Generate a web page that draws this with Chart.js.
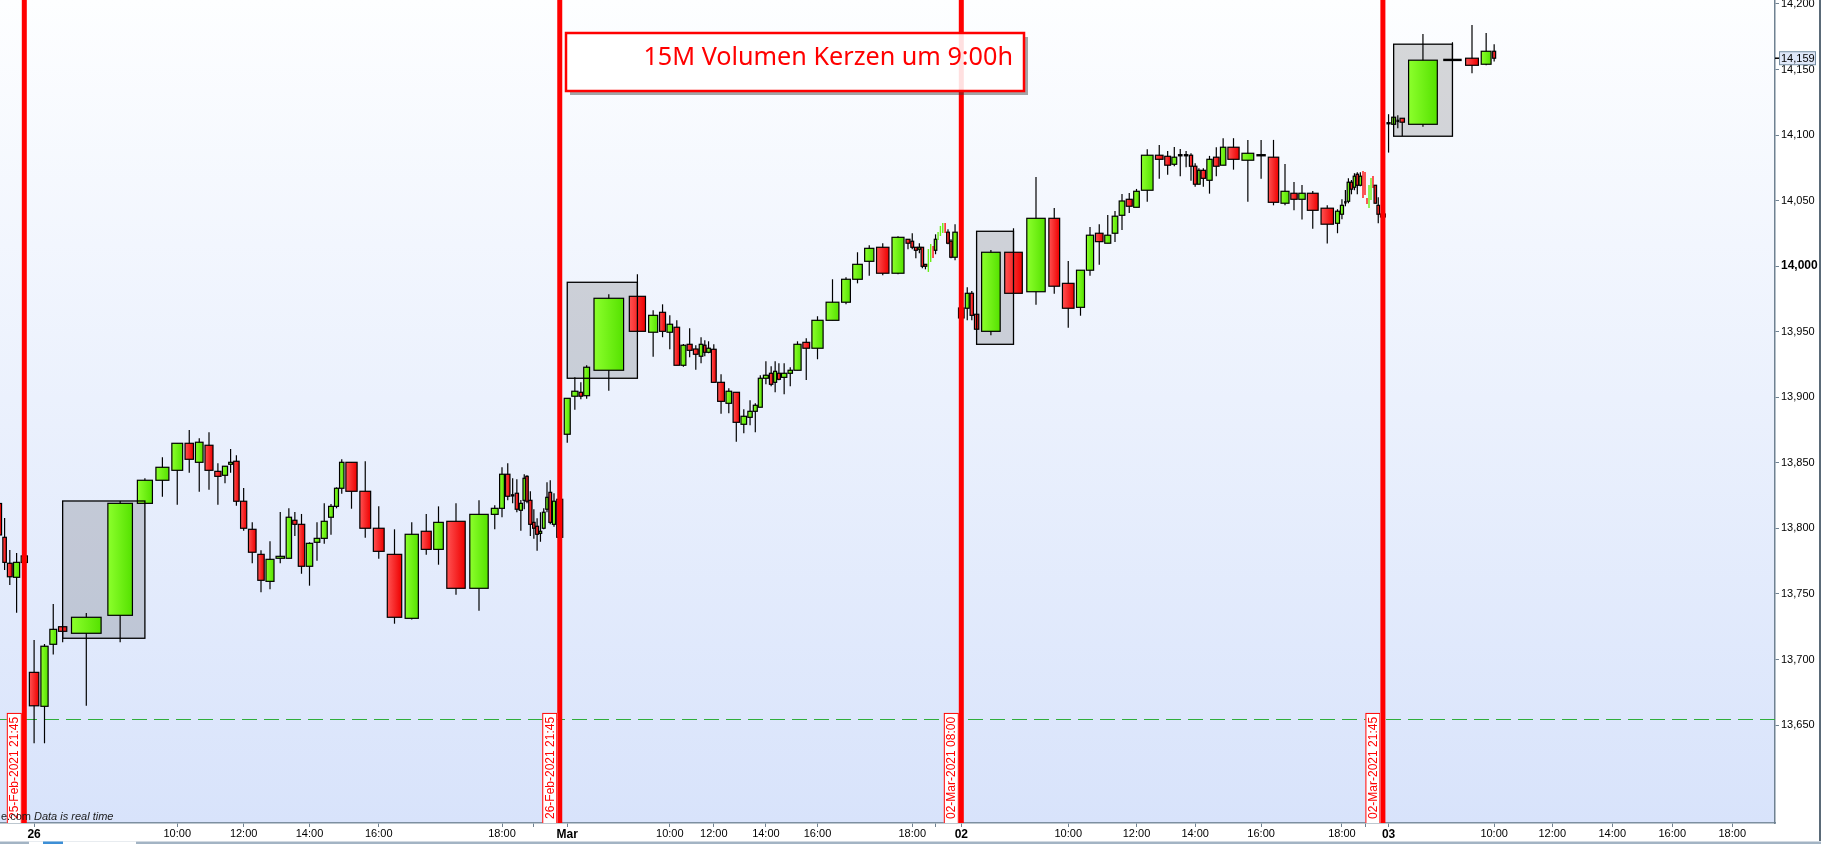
<!DOCTYPE html>
<html>
<head>
<meta charset="utf-8">
<script src="https://cdn.jsdelivr.net/npm/chart.js@4.4.1/dist/chart.umd.min.js"></script>
<style>
    html, body { margin: 0; padding: 0; background: #fff; overflow: hidden; }
    #wrap { width: 1821px; height: 844px; }
</style>
</head>
<body>
<div id="wrap"><canvas id="chart" width="1821" height="844"></canvas></div>
<script>
// 15 minute bars, width of each bar = traded volume (relative units)
const volume = [
    // 25 Feb (tail)
    8.4, 4.4, 6.0, 7.6, 7.8,
    // 26 Feb 08:00 - 21:45
    11.8, 9, 8.5, 10.3, 37, 30.7, 18.8, 16.2, 13.5, 10.5, 9.5, 10, 7.8, 6.4, 4.8, 6.8, 7.7, 9.5, 8, 10,
    10.5, 6.7, 5.3, 8, 8, 7, 7.5, 6, 5, 5.5, 14, 13.5, 13.5, 18, 16.5, 12.5, 12, 23, 23, 8.5,
    6, 5.5, 4.3, 4.1, 3.9, 2.9, 2.6, 4.1, 2.9, 3.6, 3.1, 3.5, 3, 3.5, 4, 7.5,
    // 01 Mar
    7.5, 7.7, 4.3, 7.3, 37, 20.2, 11.3, 7.5, 7, 7, 6.2, 6.3, 6, 4.5, 3, 4.5, 6, 8.5, 7, 8,
    7, 5.5, 5, 5, 6.2, 4.3, 3.7, 3.8, 6.7, 5.5, 9, 8.5, 14, 16, 11, 12, 11.5, 15.5, 15, 5,
    3.5, 3.7, 3.3, 2.7, 3.5, 2.33, 2.33, 2.34, 2.7, 2.35, 2.35, 2.35, 2.35, 3.4, 2.6, 5.5,
    // 02 Mar
    7, 4.9, 4.2, 5.4, 23.2, 22, 23, 13.5, 14.5, 10, 9, 9.5, 7.5, 7, 7, 7.5, 7, 14.5, 9.5, 7.3,
    6, 5.9, 5.8, 4, 4.3, 3.2, 5.7, 6.6, 7, 6.7, 14, 14.7, 11.8, 13, 10, 8, 8, 13.5, 15.5, 5,
    3.9, 3, 3, 3.1, 2.9, 2.8, 3.3, 2, 2, 2, 2, 2, 2, 2.6, 3.3, 6,
    // 03 Mar
    5.3, 4.9, 3.4, 5.5, 35.9, 23.1, 16, 12.3, 3.7
];

const open = [
    13819, 13793.2, 13773.4, 13762.7, 13774,
    13690.2, 13664.3, 13711.6, 13725, 13720, 13733.7, 13819.1, 13836.7, 13844.3, 13864.9, 13850.4, 13863.4, 13843.5, 13840.5, 13848.9, 13851.2, 13820.7, 13799.3, 13780.2, 13759.6,
    13777.2, 13777.2, 13806.2, 13803.1, 13771.1, 13789.4, 13792.4, 13808.5, 13816.8, 13830.6, 13850.4, 13828.3, 13800.1, 13780.2, 13731.4, 13797.8, 13784, 13805.4, 13754.3, 13810.7,
    13815.3, 13841.3, 13825.2, 13826.8, 13813.8, 13821.4, 13839.7, 13821.4, 13804.6, 13801.6, 13796.2, 13800.1, 13814.6, 13827.5, 13803.1, 13822.2,
    13871.8, 13900.8, 13903.8, 13901.2, 13920.6, 13977, 13949.6, 13964.8, 13949.6, 13953.4, 13924.4, 13940.4, 13936.8, 13931.3, 13939.7, 13934.3, 13936.6, 13911.4, 13895.4, 13903.8,
    13879.4, 13884.7, 13889.3, 13892.4, 13914.5, 13918.3, 13911.4, 13918.3, 13915.2, 13918.3, 13920.6, 13941.9, 13937.4, 13958.7, 13972.5, 13990, 14003.7, 14014.4, 13994.6, 14020.5,
    14019, 14014.4, 14012.9, 14014.4, 14001.4, 13995.6, 14003.2, 14015.4, 14012.1, 14020, 14023, 14025.3, 14032.9, 14025.9, 14019, 14006.8,
    13968.1, 13967.9, 13979.3, 13963.3, 13950.3, 14010.6, 13980.5, 14036.5, 13986.9, 13968.6, 13996.9, 14025.1, 14017.5, 14025.1, 14038.8, 14051, 14044.9, 14057.9, 14084.6, 14083.8,
    14077.7, 14084.6, 14084.6, 14084.6, 14076.2, 14062.5, 14073.1, 14065.5, 14083.1, 14077, 14090.7, 14080.8, 14084.6, 14083.1, 14048, 14055.6, 14051, 14055.6, 14044.2, 14032.7,
    14039.6, 14048.7, 14049.5, 14064, 14060.2, 14070.1, 14061.7, 14072.6, 14071.8, 14052, 14044.4, 14050.5, 14068.8, 14061.7, 14046.4, 14039.8,
    14109, 14108.2, 14110.8, 14112.8, 14108.2, 14157.3, 14158.6, 14154, 14163.9
];

const high = [
    13822.4, 13807.9, 13783.5, 13781.2, 13783,
    13714.9, 13711.8, 13742.3, 13725, 13735.5, 13820.9, 13838.2, 13854.2, 13864.9, 13875, 13868.7, 13873.3, 13849.6, 13847.5, 13860.6, 13855.7, 13830.8, 13804.6, 13783.3, 13790.1,
    13812.5, 13815.3, 13812.5, 13811, 13789.4, 13804.6, 13819.1, 13818.6, 13831.3, 13852.7, 13850.4, 13851.2, 13816.8, 13799.3, 13804.6, 13811, 13816.8, 13819.1, 13821.4, 13817.6,
    13846.6, 13849.6, 13838.2, 13837.4, 13821.7, 13841.3, 13840.5, 13828.3, 13814.6, 13807.7, 13812.3, 13815.3, 13835.1, 13836.7, 13826.8, 13822.2,
    13899.2, 13915.2, 13911.4, 13924.4, 13978.6, 13993.8, 13966.4, 13970.9, 13962.5, 13958.7, 13940.6, 13952.6, 13939.7, 13945.8, 13943.5, 13942.7, 13940.4, 13917.5, 13906.9, 13903.8,
    13890.8, 13897.7, 13895.4, 13916.8, 13927.5, 13923.6, 13927.5, 13925.9, 13925.9, 13922.9, 13942.7, 13945, 13961.8, 13990, 13991.5, 14010.6, 14015.9, 14017.5, 14022.8, 14020.5,
    14025.1, 14014.4, 14017.5, 14014.4, 14001.4, 14013.1, 14016.9, 14015.4, 14024.3, 14026.1, 14030.7, 14032.9, 14032.9, 14028.1, 14020.5, 14032,
    13970.4, 13983.9, 13981.1, 13963.3, 14012.4, 14028.9, 14068, 14044.4, 14004, 13996.9, 14029.9, 14032, 14039, 14042.1, 14055.1, 14055.8, 14058.9, 14089.2, 14092.4, 14087.9,
    14090.9, 14089.4, 14087.9, 14086.1, 14078.5, 14074.7, 14074.7, 14084.1, 14090.7, 14097.6, 14097.6, 14096.3, 14096.3, 14096.3, 14078, 14064.2, 14061.9, 14057.4, 14046.4, 14043.4,
    14051, 14058.1, 14067, 14065.7, 14070.9, 14071.6, 14071.6, 14072.6, 14071.8, 14052, 14061.9, 14067.3, 14068.8, 14061.7, 14052.6, 14042.9,
    14115.9, 14113.6, 14115.1, 14112.8, 14177.1, 14170.8, 14184, 14177.9, 14169.3
];

const low = [
    13795, 13768.3, 13756.8, 13735.7, 13773,
    13636.1, 13636.1, 13703.9, 13713.1, 13664.7, 13713.1, 13819.1, 13824.2, 13818.1, 13842.5, 13828, 13829.5, 13818.1, 13834.4, 13842.5, 13817.3, 13798.2, 13773.4, 13751.2, 13753.5,
    13773.4, 13777.2, 13794.2, 13765.4, 13756.3, 13775.4, 13788.3, 13795.2, 13815.3, 13826.5, 13815, 13792.9, 13776.9, 13727.3, 13730.6, 13779.9, 13772.3, 13749.4, 13737.2, 13799.3,
    13808.5, 13821.4, 13819.1, 13812.3, 13798.2, 13814.6, 13819.1, 13794.2, 13792.1, 13783, 13789.8, 13799.3, 13812.3, 13803.1, 13801.3, 13793.2,
    13865.4, 13890.5, 13898.5, 13898.9, 13905, 13950.3, 13931, 13945.8, 13936.6, 13924.4, 13923.3, 13930.5, 13921, 13925.9, 13931.3, 13933.6, 13911.4, 13887.5, 13887.8, 13866.1,
    13872.5, 13878.6, 13873.3, 13892.4, 13909.9, 13908.4, 13903.8, 13913, 13902.3, 13908.4, 13920.6, 13913.2, 13929, 13958.7, 13970.9, 13986.9, 13992.7, 13993.1, 13993.8, 14012.9,
    14012.9, 14006, 14009.8, 13998.4, 13997.6, 13995.6, 14003.2, 14006.2, 14009.1, 14020, 14023, 14025.3, 14025.3, 14016.7, 14006, 14004.5,
    13958.2, 13958.7, 13958.7, 13951.9, 13947.3, 13979.3, 13970.6, 13979, 13953.1, 13962.2, 13992.7, 14001.1, 14017.5, 14018.5, 14027.6, 14040.6, 14044.9, 14049.2, 14066.7, 14069.8,
    14076.2, 14068.6, 14075.4, 14065.2, 14060.6, 14062.5, 14060.6, 14055.3, 14068.6, 14077, 14073.6, 14049.2, 14066.7, 14046.4, 14046.4, 14042.6, 14035.5, 14028.6, 14017.2, 14025.1,
    14035.8, 14045.7, 14048, 14054.8, 14057.9, 14054.8, 14060.9, 14052, 14054.3, 14047.4, 14044.4, 14050.5, 14059.6, 14048, 14032.7, 14033.7,
    14086.6, 14108.2, 14105.2, 14099.3, 14106.4, 14157.3, 14147.1, 14153.2, 14156
];

const close = [
    13795, 13774.1, 13763.1, 13774.1, 13779,
    13664.7, 13710.1, 13723, 13721.5, 13732.2, 13819.1, 13836.7, 13846.6, 13864.9, 13852.7, 13865.7, 13844.3, 13839.7, 13847.4, 13850.4, 13820.7, 13800.1, 13781.8, 13760.4, 13776.4,
    13778.7, 13808.5, 13803.1, 13771.1, 13788.6, 13792.4, 13805.4, 13816.8, 13830.6, 13850.4, 13828.3, 13800.1, 13782.5, 13732.2, 13795.5, 13784, 13804.6, 13754.3, 13810.7, 13815.3,
    13841.3, 13824.5, 13824.5, 13814.6, 13819.1, 13838.2, 13820.7, 13803.1, 13800.1, 13795.5, 13797.8, 13812.3, 13823.7, 13804.6, 13820.7, 13793.2,
    13899.2, 13904.6, 13900.8, 13922.9, 13975.5, 13950.3, 13962.5, 13950.3, 13955.7, 13924.4, 13939.7, 13935.8, 13932.8, 13940.4, 13934.3, 13937.4, 13911.4, 13896.9, 13904.6, 13880.9,
    13885.5, 13889.3, 13893.9, 13914.5, 13916.8, 13909.9, 13919.8, 13913.7, 13918.3, 13920.6, 13940.4, 13937.4, 13958.7, 13972.5, 13990, 14001.4, 14013.6, 13994.6, 14022, 14017.5,
    14014.4, 14012.1, 14014.4, 13999.9, 13999.9, 14013.1, 14016.9, 14006.2, 14020.5, 14026.1, 14030.7, 14032.9, 14025.3, 14017.5, 14006.8, 14025.9,
    13960.5, 13979.3, 13962.5, 13951.9, 14010.6, 13979.3, 14036.5, 13984.7, 13967.9, 13996.9, 14023.6, 14018.7, 14023.6, 14038.1, 14049.7, 14045.7, 14057.1, 14084.6, 14081.5, 14077,
    14083.1, 14084.6, 14084.6, 14076.2, 14062.5, 14073.1, 14067, 14081.5, 14076.2, 14090.7, 14081.5, 14086.1, 14084.6, 14048.7, 14057.1, 14051, 14055.6, 14042.6, 14032, 14041.9,
    14046.4, 14048.7, 14064, 14058.7, 14068.6, 14061.7, 14068.6, 14052, 14054.3, 14047.4, 14061.9, 14067.3, 14059.6, 14048, 14039.6, 14037.5,
    14109, 14113.6, 14110.8, 14109.8, 14157.1, 14157.3, 14153.2, 14163.9, 14158.6
];

// time axis: bar index of each tick (bars past the last one use the average volume)
const tickBars = [5, 13, 21, 29, 37, 45, 53, 61, 69, 77, 85, 93, 101, 109, 117, 125, 133, 141, 149, 157, 165, 173, 181, 189, 197, 205, 213];
const tickLabels = ["26", "10:00", "12:00", "14:00", "16:00", "18:00", "",
    "Mar", "10:00", "12:00", "14:00", "16:00", "18:00", "",
    "02", "10:00", "12:00", "14:00", "16:00", "18:00", "",
    "03", "10:00", "12:00", "14:00", "16:00", "18:00"];
const dayLabels = ["26", "Mar", "02", "03"];
const futureBarVolume = 7.5;

const priceTicks = [13650, 13700, 13750, 13800, 13850, 13900, 13950, 14000, 14050, 14100, 14150, 14200];

// vertical session markers
const markerBars = [4, 60, 117, 172];
const markerLabels = ["25-Feb-2021 21:45", "26-Feb-2021 21:45", "02-Mar-2021 08:00", "02-Mar-2021 21:45"];

// 9:00 boxes (from bar, to bar, price range)
const boxFrom = [8, 61, 120, 174];
const boxTo = [11, 66, 122, 178];
const boxHigh = [13820.9, 13987.7, 14026.6, 14169.3];
const boxLow = [13716.2, 13914.5, 13940.4, 14099.1];

const levelLine = 13655;
const titleText = "15M Volumen Kerzen um 9:00h";

const FONT = '"Liberation Sans", Arial, sans-serif';

const edges = [0];
volume.forEach((v) => edges.push(edges[edges.length - 1] + v));

function barCenter(i) {
    if (i < volume.length) {
        return (edges[i] + edges[i + 1]) / 2;
    }
    return edges[volume.length] + (i - volume.length + 0.5) * futureBarVolume;
}

const xTickValues = tickBars.map(barCenter);

function drawCandles(chart) {
    const { ctx } = chart;
    const xs = chart.scales.x;
    const ys = chart.scales.y;

    for (let i = 0; i < volume.length; i++) {
        const x0 = xs.getPixelForValue(edges[i]);
        const x1 = xs.getPixelForValue(edges[i + 1]);
        const cx = (x0 + x1) / 2;
        const up = close[i] >= open[i];
        const yH = ys.getPixelForValue(high[i]);
        const yL = ys.getPixelForValue(low[i]);
        const yO = ys.getPixelForValue(open[i]);
        const yC = ys.getPixelForValue(close[i]);

        if (volume[i] < 2.5) {
            // very small volume: only a coloured stroke
            ctx.strokeStyle = up ? "#66ee11" : "#ff1010";
            ctx.lineWidth = 1.4;
            ctx.beginPath();
            ctx.moveTo(cx, yH);
            ctx.lineTo(cx, yL);
            ctx.stroke();
            continue;
        }

        ctx.strokeStyle = "#000";
        ctx.lineWidth = 1.2;
        ctx.beginPath();
        ctx.moveTo(cx, yH);
        ctx.lineTo(cx, yL);
        ctx.stroke();

        const w = Math.max(2.5, (x1 - x0) * 0.8);
        const top = Math.min(yO, yC);
        const bot = Math.max(yO, yC);

        if (bot - top < 1.5) {
            ctx.fillStyle = "#000";
            ctx.fillRect(cx - w / 2, top - 1.2, w, 2.4);
            continue;
        }

        const g = ctx.createLinearGradient(cx - w / 2, 0, cx + w / 2, 0);
        if (up) {
            g.addColorStop(0, "#8cff2c");
            g.addColorStop(1, "#55e200");
        }
        else {
            g.addColorStop(0, "#ff5252");
            g.addColorStop(1, "#ee0000");
        }
        ctx.fillStyle = g;
        ctx.fillRect(cx - w / 2, top, w, bot - top);
        ctx.lineWidth = 1.2;
        ctx.strokeRect(cx - w / 2, top, w, bot - top);
    }
}

function boxRect(chart, k) {
    const xs = chart.scales.x;
    const ys = chart.scales.y;
    const left = xs.getPixelForValue(barCenter(boxFrom[k]));
    const right = xs.getPixelForValue(barCenter(boxTo[k]));
    const top = ys.getPixelForValue(boxHigh[k]);
    const bottom = ys.getPixelForValue(boxLow[k]);
    return [left, top, right - left, bottom - top];
}

const volumeChartPlugin = {
    id: "volumeChart",
    beforeDraw(chart) {
        const { ctx, chartArea: a } = chart;
        ctx.save();
        ctx.fillStyle = "#fff";
        ctx.fillRect(0, 0, chart.width, chart.height);
        const g = ctx.createLinearGradient(0, a.top, 0, a.bottom);
        g.addColorStop(0, "#fdfeff");
        g.addColorStop(1, "#d8e3fb");
        ctx.fillStyle = g;
        ctx.fillRect(a.left, a.top, a.right - a.left, a.bottom - a.top);
        ctx.restore();
    },
    beforeDatasetsDraw(chart) {
        const { ctx, chartArea: a } = chart;
        const xs = chart.scales.x;
        const ys = chart.scales.y;

        ctx.save();
        ctx.beginPath();
        ctx.rect(a.left, a.top, a.right - a.left, a.bottom - a.top);
        ctx.clip();

        // box fills behind the candles
        ctx.fillStyle = "rgba(0, 0, 0, 0.15)";
        boxFrom.forEach((_, k) => ctx.fillRect(...boxRect(chart, k)));

        // horizontal level
        const yl = Math.round(ys.getPixelForValue(levelLine)) + 0.5;
        ctx.strokeStyle = "#2fae3a";
        ctx.lineWidth = 1.2;
        ctx.setLineDash([15, 7]);
        ctx.beginPath();
        ctx.moveTo(a.left, yl);
        ctx.lineTo(a.right, yl);
        ctx.stroke();
        ctx.setLineDash([]);

        drawCandles(chart);

        // box outlines on top
        ctx.strokeStyle = "#000";
        ctx.lineWidth = 1.3;
        boxFrom.forEach((_, k) => ctx.strokeRect(...boxRect(chart, k)));

        // session markers
        markerBars.forEach((bar, k) => {
            const lx = xs.getPixelForValue(barCenter(bar));
            ctx.fillStyle = "#ff0000";
            ctx.fillRect(lx - 2.5, a.top, 5, a.bottom - a.top);

            ctx.font = "12px " + FONT;
            const tw = ctx.measureText(markerLabels[k]).width;
            const bw = 15;
            const bh = tw + 8;
            const bx = lx - 2.5 - bw;
            const by = a.bottom - bh;
            ctx.fillStyle = "#fff";
            ctx.fillRect(bx, by, bw, bh);
            ctx.strokeStyle = "#ff0000";
            ctx.lineWidth = 1;
            ctx.strokeRect(bx + 0.5, by + 0.5, bw - 1, bh);
            ctx.save();
            ctx.translate(bx + bw / 2 + 0.5, a.bottom - 4);
            ctx.rotate(-Math.PI / 2);
            ctx.fillStyle = "#ff0000";
            ctx.textAlign = "left";
            ctx.textBaseline = "middle";
            ctx.fillText(markerLabels[k], 0, 0);
            ctx.restore();
        });

        // title annotation
        const tx = a.left + 566;
        const ty = a.top + 33;
        const tw = 458;
        const th = 58;
        ctx.fillStyle = "rgba(60, 60, 60, 0.45)";
        ctx.fillRect(tx + tw, ty + 4, 4, th);
        ctx.fillRect(tx + 4, ty + th, tw - 4, 4);
        ctx.fillStyle = "rgba(255, 255, 255, 0.88)";
        ctx.fillRect(tx, ty, tw, th);
        ctx.strokeStyle = "#ff0000";
        ctx.lineWidth = 2.5;
        ctx.strokeRect(tx, ty, tw, th);
        ctx.font = '26px "Noto Sans", "Open Sans", sans-serif';
        const size = 26 * 370 / ctx.measureText(titleText).width;
        ctx.font = size.toFixed(1) + 'px "Noto Sans", "Open Sans", sans-serif';
        ctx.fillStyle = "#ff0000";
        ctx.textAlign = "right";
        ctx.textBaseline = "alphabetic";
        ctx.fillText(titleText, tx + 447, ty + 32);

        // footer note
        ctx.fillStyle = "#1a1a1a";
        ctx.textAlign = "left";
        ctx.textBaseline = "middle";
        ctx.font = "11px " + FONT;
        ctx.fillText("e.com", a.left + 1, a.bottom - 6);
        ctx.font = "italic 11px " + FONT;
        ctx.fillText("Data is real time", a.left + 34, a.bottom - 6);

        ctx.restore();
    },
    afterDraw(chart) {
        const { ctx, chartArea: a } = chart;
        const ys = chart.scales.y;
        const last = close[close.length - 1];
        const yp = ys.getPixelForValue(last);

        ctx.save();
        ctx.strokeStyle = "#000";
        ctx.lineWidth = 1.5;
        ctx.beginPath();
        ctx.moveTo(a.right, yp);
        ctx.lineTo(a.right + 4, yp);
        ctx.stroke();
        ctx.fillStyle = "#dfe7f8";
        ctx.fillRect(a.right + 4.5, yp - 6.5, 36, 13);
        ctx.strokeStyle = "#7890a4";
        ctx.lineWidth = 1;
        ctx.strokeRect(a.right + 4.5, yp - 6.5, 36, 13);
        ctx.fillStyle = "#000";
        ctx.font = "11px " + FONT;
        ctx.textAlign = "left";
        ctx.textBaseline = "middle";
        ctx.fillText(Math.round(last).toLocaleString("en-US"), a.right + 6, yp + 0.5);

        // bottom scroll strip and window edge
        ctx.fillStyle = "#a3b4c4";
        ctx.fillRect(0, chart.height - 2.5, chart.width, 2.5);
        ctx.fillStyle = "#fff";
        ctx.fillRect(29, chart.height - 2.5, 107, 2.5);
        ctx.fillStyle = "#3d8fd6";
        ctx.fillRect(43, chart.height - 2.5, 20, 2.5);
        ctx.fillStyle = "#5a6a78";
        ctx.fillRect(chart.width - 2, 0, 2, chart.height - 3);
        ctx.restore();
    }
};

const ctx = document.getElementById("chart").getContext("2d");

new Chart(ctx, {
    type: "scatter",
    data: {
        datasets: [{
            label: "Close",
            data: close.map((c, i) => ({ x: barCenter(i), y: c })),
            pointRadius: 0,
            showLine: false
        }]
    },
    options: {
        responsive: false,
        animation: false,
        devicePixelRatio: 1,
        layout: { padding: 0 },
        plugins: {
            legend: { display: false },
            tooltip: { enabled: false }
        },
        scales: {
            x: {
                type: "linear",
                position: "bottom",
                min: 6,
                max: 1781,
                afterBuildTicks(scale) {
                    scale.ticks = xTickValues.map((v) => ({ value: v }));
                },
                afterFit(scale) {
                    scale.height = 21;
                    scale.paddingLeft = 0;
                    scale.paddingRight = 0;
                },
                ticks: {
                    autoSkip: false,
                    maxRotation: 0,
                    minRotation: 0,
                    padding: 0,
                    color: "#000",
                    callback(value, index) {
                        return tickLabels[index];
                    },
                    font(context) {
                        const label = context.tick ? tickLabels[context.index] : "";
                        const day = dayLabels.includes(label);
                        return { family: FONT, size: day ? 12 : 11, weight: day ? "bold" : "normal" };
                    }
                },
                grid: {
                    drawOnChartArea: false,
                    drawTicks: true,
                    tickLength: 4,
                    tickColor: "#6f8191"
                },
                border: { display: true, color: "#7d8fa0", width: 1.5 }
            },
            y: {
                type: "linear",
                position: "right",
                min: 13575.3,
                max: 14203,
                afterBuildTicks(scale) {
                    scale.ticks = priceTicks.map((v) => ({ value: v }));
                },
                afterFit(scale) {
                    scale.width = 46;
                    scale.paddingTop = 0;
                    scale.paddingBottom = 0;
                },
                ticks: {
                    padding: 2,
                    color: "#000",
                    callback(value) {
                        return value.toLocaleString("en-US");
                    },
                    font(context) {
                        const bold = context.tick && context.tick.value === 14000;
                        return { family: FONT, size: bold ? 12 : 11, weight: bold ? "bold" : "normal" };
                    }
                },
                grid: {
                    drawOnChartArea: false,
                    drawTicks: true,
                    tickLength: 4,
                    tickColor: "#6f8191"
                },
                border: { display: true, color: "#6f8191", width: 1.5 }
            }
        }
    },
    plugins: [volumeChartPlugin]
});
</script>
</body>
</html>
